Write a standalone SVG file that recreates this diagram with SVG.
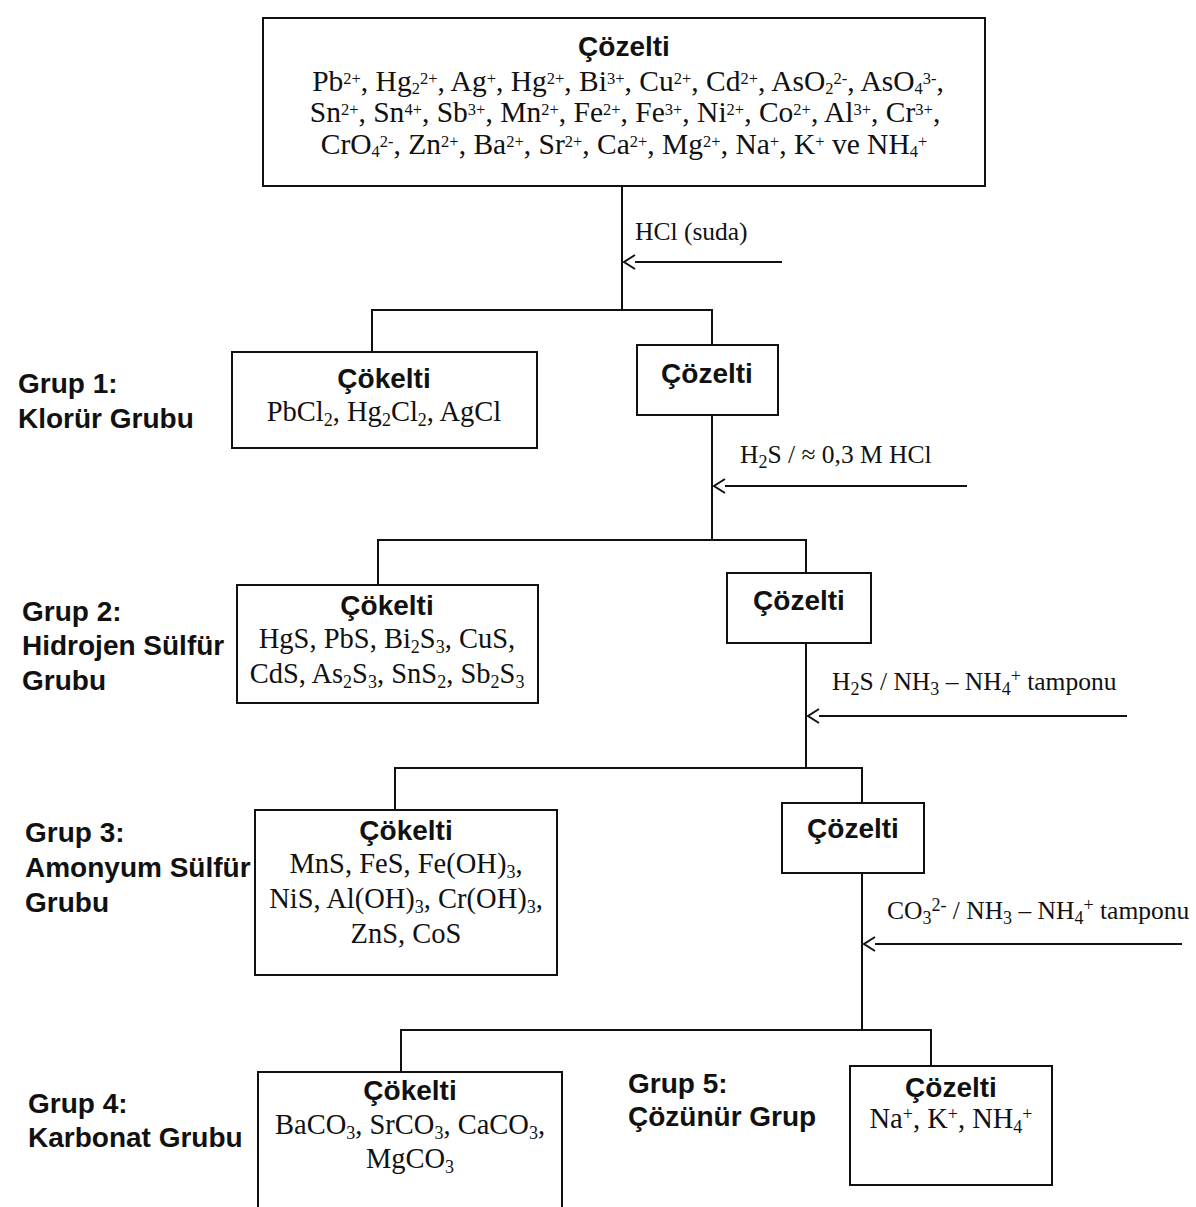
<svg xmlns="http://www.w3.org/2000/svg" width="1196" height="1207" viewBox="0 0 1196 1207">
<style>
.box{fill:#fff;stroke:#111;stroke-width:2}
.con{fill:none;stroke:#111;stroke-width:2}
.ttl{font-family:"Liberation Sans",Arial,sans-serif;font-weight:bold;font-size:28px;fill:#111;text-anchor:middle}
.grp{font-family:"Liberation Sans",Arial,sans-serif;font-weight:bold;font-size:28px;fill:#111}
.f{font-family:"Liberation Serif","Times New Roman",serif;font-size:28.5px;fill:#111;text-anchor:middle}
.t{font-size:29.5px}
.r{font-family:"Liberation Serif","Times New Roman",serif;font-size:25.5px;fill:#111}
.sup{font-size:18px;baseline-shift:8px}
.sub{font-size:18px;baseline-shift:-5px}
.t .sup{font-size:16.5px;baseline-shift:7px}
.t .sub{font-size:16.5px;baseline-shift:-3px}
</style>
<defs>
<marker id="ah" markerWidth="16" markerHeight="16" refX="1" refY="8" orient="auto" markerUnits="userSpaceOnUse">
<path d="M1,1 L12,8 L1,15" fill="none" stroke="#111" stroke-width="2"/>
</marker>
</defs>
<rect width="1196" height="1207" fill="#fff"/>

<g id="connectors">
<path class="con" d="M622 186 V310"/>
<path class="con" d="M372 352 V310 H712 V345"/>
<path class="con" d="M712 415 V540"/>
<path class="con" d="M378 585 V540 H806 V573"/>
<path class="con" d="M806 643 V768"/>
<path class="con" d="M395 810 V768 H862 V803"/>
<path class="con" d="M862 873 V1030"/>
<path class="con" d="M401 1072 V1030 H931 V1066"/>
<path class="con" d="M782 262 H635" marker-end="url(#ah)"/>
<path class="con" d="M967 486 H725" marker-end="url(#ah)"/>
<path class="con" d="M1127 716 H819" marker-end="url(#ah)"/>
<path class="con" d="M1182 944 H875" marker-end="url(#ah)"/>
<text class="r" x="635" y="240">HCl (suda)</text>
<text class="r" x="740" y="463">H<tspan class="sub">2</tspan>S / ≈ 0,3 M HCl</text>
<text class="r" x="832" y="690">H<tspan class="sub">2</tspan>S / NH<tspan class="sub">3</tspan> – NH<tspan class="sub">4</tspan><tspan class="sup">+</tspan> tamponu</text>
<text class="r" x="887" y="919">CO<tspan class="sub">3</tspan><tspan class="sup">2-</tspan> / NH<tspan class="sub">3</tspan> – NH<tspan class="sub">4</tspan><tspan class="sup">+</tspan> tamponu</text>
</g>

<g id="start">
<rect class="box" x="263" y="18" width="722" height="168"/>
<text class="ttl" x="624" y="56">Çözelti</text>
<text class="f t" x="628" y="91">Pb<tspan class="sup">2+</tspan>, Hg<tspan class="sub">2</tspan><tspan class="sup">2+</tspan>, Ag<tspan class="sup">+</tspan>, Hg<tspan class="sup">2+</tspan>, Bi<tspan class="sup">3+</tspan>, Cu<tspan class="sup">2+</tspan>, Cd<tspan class="sup">2+</tspan>, AsO<tspan class="sub">2</tspan><tspan class="sup">2-</tspan>, AsO<tspan class="sub">4</tspan><tspan class="sup">3-</tspan>,</text>
<text class="f t" x="625" y="122">Sn<tspan class="sup">2+</tspan>, Sn<tspan class="sup">4+</tspan>, Sb<tspan class="sup">3+</tspan>, Mn<tspan class="sup">2+</tspan>, Fe<tspan class="sup">2+</tspan>, Fe<tspan class="sup">3+</tspan>, Ni<tspan class="sup">2+</tspan>, Co<tspan class="sup">2+</tspan>, Al<tspan class="sup">3+</tspan>, Cr<tspan class="sup">3+</tspan>,</text>
<text class="f t" x="624" y="154">CrO<tspan class="sub">4</tspan><tspan class="sup">2-</tspan>, Zn<tspan class="sup">2+</tspan>, Ba<tspan class="sup">2+</tspan>, Sr<tspan class="sup">2+</tspan>, Ca<tspan class="sup">2+</tspan>, Mg<tspan class="sup">2+</tspan>, Na<tspan class="sup">+</tspan>, K<tspan class="sup">+</tspan> ve NH<tspan class="sub">4</tspan><tspan class="sup">+</tspan></text>
</g>

<g id="grup1-label">
<text class="grp" x="18" y="393">Grup 1:</text>
<text class="grp" x="18" y="428">Klorür Grubu</text>
</g>
<g id="cokelti1">
<rect class="box" x="232" y="352" width="305" height="96"/>
<text class="ttl" x="384" y="388">Çökelti</text>
<text class="f" x="384" y="421">PbCl<tspan class="sub">2</tspan>, Hg<tspan class="sub">2</tspan>Cl<tspan class="sub">2</tspan>, AgCl</text>
</g>
<g id="cozelti1">
<rect class="box" x="637" y="345" width="141" height="70"/>
<text class="ttl" x="707" y="383">Çözelti</text>
</g>

<g id="grup2-label">
<text class="grp" x="22" y="621">Grup 2:</text>
<text class="grp" x="22" y="655">Hidrojen Sülfür</text>
<text class="grp" x="22" y="690">Grubu</text>
</g>
<g id="cokelti2">
<rect class="box" x="237" y="585" width="301" height="118"/>
<text class="ttl" x="387" y="615">Çökelti</text>
<text class="f" x="387" y="648">HgS, PbS, Bi<tspan class="sub">2</tspan>S<tspan class="sub">3</tspan>, CuS,</text>
<text class="f" x="387" y="683">CdS, As<tspan class="sub">2</tspan>S<tspan class="sub">3</tspan>, SnS<tspan class="sub">2</tspan>, Sb<tspan class="sub">2</tspan>S<tspan class="sub">3</tspan></text>
</g>
<g id="cozelti2">
<rect class="box" x="727" y="573" width="144" height="70"/>
<text class="ttl" x="799" y="610">Çözelti</text>
</g>

<g id="grup3-label">
<text class="grp" x="25" y="842">Grup 3:</text>
<text class="grp" x="25" y="877">Amonyum Sülfür</text>
<text class="grp" x="25" y="912">Grubu</text>
</g>
<g id="cokelti3">
<rect class="box" x="255" y="810" width="302" height="165"/>
<text class="ttl" x="406" y="840">Çökelti</text>
<text class="f" x="406" y="873">MnS, FeS, Fe(OH)<tspan class="sub">3</tspan>,</text>
<text class="f" x="406" y="908">NiS, Al(OH)<tspan class="sub">3</tspan>, Cr(OH)<tspan class="sub">3</tspan>,</text>
<text class="f" x="406" y="943">ZnS, CoS</text>
</g>
<g id="cozelti3">
<rect class="box" x="782" y="803" width="142" height="70"/>
<text class="ttl" x="853" y="838">Çözelti</text>
</g>

<g id="grup4-label">
<text class="grp" x="28" y="1113">Grup 4:</text>
<text class="grp" x="28" y="1147">Karbonat Grubu</text>
</g>
<g id="cokelti4">
<rect class="box" x="258" y="1072" width="304" height="145"/>
<text class="ttl" x="410" y="1100">Çökelti</text>
<text class="f" x="410" y="1134">BaCO<tspan class="sub">3</tspan>, SrCO<tspan class="sub">3</tspan>, CaCO<tspan class="sub">3</tspan>,</text>
<text class="f" x="410" y="1168">MgCO<tspan class="sub">3</tspan></text>
</g>

<g id="grup5-label">
<text class="grp" x="628" y="1093">Grup 5:</text>
<text class="grp" x="628" y="1126">Çözünür Grup</text>
</g>
<g id="cozelti5">
<rect class="box" x="850" y="1066" width="202" height="119"/>
<text class="ttl" x="951" y="1097">Çözelti</text>
<text class="f" x="951" y="1128">Na<tspan class="sup">+</tspan>, K<tspan class="sup">+</tspan>, NH<tspan class="sub">4</tspan><tspan class="sup">+</tspan></text>
</g>
</svg>
